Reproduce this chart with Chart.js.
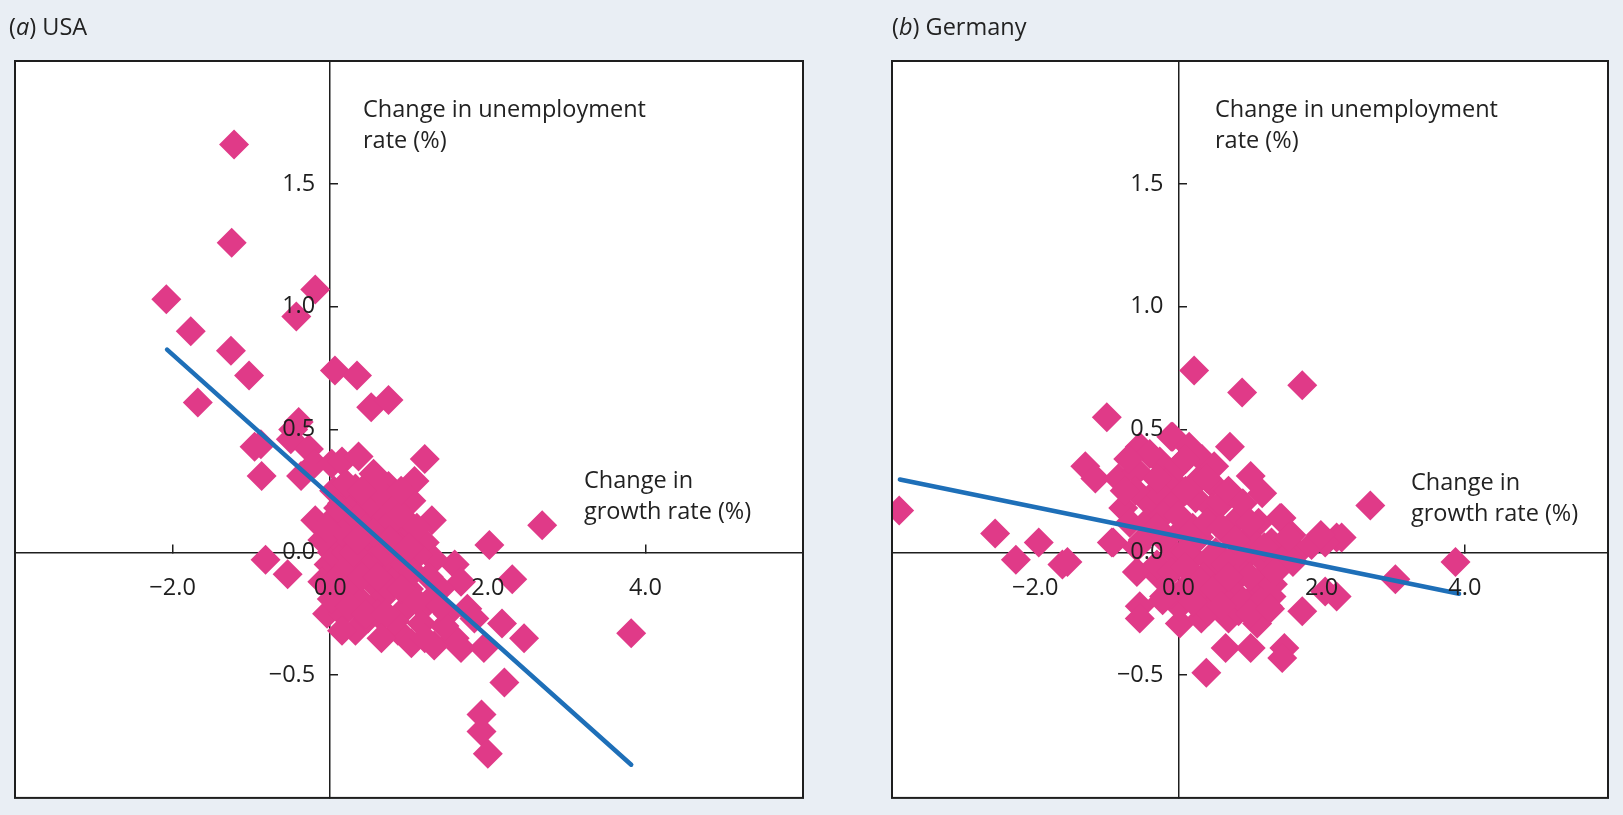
<!DOCTYPE html>
<html>
<head>
<meta charset="utf-8">
<script src="https://cdn.jsdelivr.net/npm/chart.js@4.4.1/dist/chart.umd.min.js"></script>
<style>
  html, body { margin: 0; padding: 0; background: #e9eef4; width: 1623px; height: 815px; overflow: hidden; }
  canvas { position: absolute; top: 0; }
  #cUSA { left: 0; width: 850px; height: 815px; }
  #cGER { left: 850px; width: 773px; height: 815px; }
  .t { position: absolute; font-family: "Open Sans", Lato, sans-serif; font-size: 23.5px; line-height: 31px; color: #222; white-space: nowrap; }
</style>
</head>
<body>
<canvas id="cUSA" width="850" height="815"></canvas>
<canvas id="cGER" width="773" height="815"></canvas>

<div class="t" style="left:9px; top:11px;">(<i>a</i>) USA</div>
<div class="t" style="left:892px; top:11px;">(<i>b</i>) Germany</div>

<div class="t" style="left:363px; top:93px;">Change in unemployment<br>rate (%)</div>
<div class="t" style="left:584px; top:464px;">Change in<br>growth rate (%)</div>
<div class="t" style="left:1215px; top:93px;">Change in unemployment<br>rate (%)</div>
<div class="t" style="left:1411px; top:466px;">Change in<br>growth rate (%)</div>

<script>
// ---------- DATA ----------
const xTickValues = [-2, 0, 2, 4];
const xTickLabels = ['\u22122.0', '0.0', '2.0', '4.0'];
const yTickValues = [-0.5, 0, 0.5, 1.0, 1.5];
const yTickLabels = ['\u22120.5', '0.0', '0.5', '1.0', '1.5'];

// (a) USA: change in growth rate (x) vs change in unemployment rate (y)
const usaGrowth = [
  -1.22, -1.25, -0.19, -2.08, -0.43, -1.77, -1.26, -1.03, 0.06, 0.34, -1.68, 0.52, 0.74,
  -0.47, -0.40, -0.50, -0.96, -0.88, -0.87, -0.27, -0.37, -0.20, 0.02, 0.15, 0.36, 1.20,
  0.32, 0.25, 0.53, 0.74, 0.65, 1.07, 1.03, 0.82, -0.19, 0.02, 0.19, 0.40, 1.29, 0.82,
  2.69, 2.02, -0.82, -0.54, 2.31, 2.18, 2.46, 3.82, 2.21, 1.92, 1.92, 2.00,
  -0.04, 0.16, 0.32, 0.48, 0.02, -0.02, 0.02, 0.86, 1.03, 1.32, 1.58, 1.66, 1.95,
  1.58, 1.66, 1.74, 1.83, 1.49, 1.20, 1.32, 1.11, 0.90, 0.74, 0.53, 0.32, 0.65, 0.95, 1.16, 0.82,
  0.10, 0.20, 0.30, 0.45, 0.60, 0.55, 0.10, 0.20, 0.40, 0.50, 0.70, 0.85, 0.95, 1.00,
  0.60, 0.45, 0.30, 0.15, 0.05, 0.90, 0.70, 1.10, 1.40, 1.25, 0.35, 0.15, 0.75, 1.05,
  0.55, 0.45, -0.10, -0.10, 0.25, 0.60, 0.88, 1.45, 0.60, 0.90,
  0.05, 0.25, 0.40, 0.60, 0.45, 0.70, 0.90, 1.10, 1.25, 1.40, 0.30, 0.55, 0.75, 1.00,
  0.20, 0.40, 0.10, 0.35, 0.65, 1.20, -0.05, 0.15
];
const usaUnemp = [
  1.66, 1.26, 1.07, 1.03, 0.96, 0.90, 0.82, 0.72, 0.74, 0.72, 0.61, 0.59, 0.62,
  0.50, 0.53, 0.46, 0.43, 0.44, 0.31, 0.42, 0.31, 0.36, 0.36, 0.37, 0.39, 0.38,
  0.26, 0.20, 0.23, 0.27, 0.24, 0.29, 0.21, 0.18, 0.13, 0.13, 0.12, 0.13, 0.13, 0.11,
  0.11, 0.03, -0.03, -0.09, -0.11, -0.29, -0.35, -0.33, -0.53, -0.66, -0.73, -0.82,
  -0.25, -0.25, -0.32, -0.27, -0.19, -0.05, 0.00, -0.32, -0.37, -0.38, -0.35, -0.39, -0.39,
  -0.05, -0.12, -0.23, -0.27, -0.25, 0.04, -0.03, -0.01, 0.05, -0.05, -0.12, -0.08, -0.19, -0.23, -0.29, -0.28,
  0.05, 0.00, 0.05, 0.02, 0.05, -0.03, -0.10, -0.15, -0.20, -0.08, 0.00, -0.10, -0.05, -0.15,
  0.15, 0.18, 0.15, 0.20, 0.25, 0.15, 0.10, 0.10, -0.15, -0.20, -0.02, 0.08, -0.15, -0.08,
  0.32, 0.10, 0.05, -0.12, -0.22, -0.25, 0.02, -0.30, 0.30, 0.25,
  -0.12, -0.05, -0.10, -0.10, -0.25, -0.25, -0.15, -0.20, -0.10, -0.22, 0.00, 0.08, 0.05, 0.02,
  0.28, 0.25, 0.18, 0.05, -0.35, -0.35, 0.10, -0.32
];
const usaFitX = [-2.07, 3.82];
const usaFitY = [0.825, -0.865];

// (b) Germany
const gerGrowth = [
  -3.90, -2.56, -1.95, -2.27, -1.62, -1.00, 0.22, 0.89, 1.73, 0.72, -0.10, -0.54, -1.30, -1.16,
  -0.93, -0.58, -0.54, -0.54, 2.68, 3.87, 3.03, 2.21, 2.05, 2.21, 1.73, 0.39, 0.66, 1.01, 1.48, 1.45,
  0.02, 0.32, 0.70, 1.10, 1.01, 1.17, 1.42, 2.28, 2.05,
  -0.08, 0.15, -0.84, -0.58, -0.26, 0.33, 0.47, -0.12, -0.40, -0.77, -0.08, 0.24, 0.47, -0.68, -0.45,
  -0.22, 0.84, 1.12, 1.44, -0.91, -0.58, -1.55, 0.05, 0.29, 0.71, 0.98, 1.30, 1.58, 1.67, 1.86,
  -0.03, 0.20, 0.52, 0.94, 1.22, 1.49,
  -0.26, 0.15, -0.20, 0.29, 0.56, 0.77, 1.05, 1.25, 1.11, 1.32, 0.84, 0.42, 0.01, 0.49, 1.25, 1.60,
  0.00, 0.10, 0.30, 0.60, 0.20, 0.40, 0.70, -0.30, -0.20, 0.10, 0.35, 0.65, 0.90, 0.00, -0.40, -0.70,
  0.50, 0.85, 1.00, 0.60,
  -0.30, -0.10, 0.10, 0.30, 0.50, 0.70, 0.90, 1.15, 1.35, -0.10, 0.20, 0.60, 1.00, 1.30, -0.22, 1.28,
  -0.60, -0.30, 0.10, 0.40, 0.60, 0.90, 1.20, -0.50, -0.30, 0.80, 1.00, -0.75, 1.99, 1.54
];
const gerUnemp = [
  0.17, 0.076, 0.04, -0.03, -0.05, 0.55, 0.74, 0.65, 0.68, 0.43, 0.47, 0.43, 0.35, 0.30,
  0.04, -0.08, -0.22, -0.27, 0.19, -0.04, -0.11, 0.06, -0.16, -0.18, -0.24, -0.49, -0.39, -0.39, -0.39, -0.43,
  -0.29, -0.27, -0.27, -0.29, 0.31, 0.24, 0.14, 0.06, 0.04,
  0.47, 0.43, 0.30, 0.33, 0.37, 0.38, 0.28, 0.30, 0.20, 0.18, 0.20, 0.22, 0.18, 0.12, 0.12,
  0.15, 0.14, 0.12, 0.14, 0.04, 0.02, -0.04, 0.09, 0.06, 0.07, 0.06, 0.04, 0.07, 0.00, 0.03,
  -0.01, -0.02, 0.00, -0.02, -0.04, -0.02,
  -0.10, -0.13, -0.18, -0.20, -0.09, -0.16, -0.18, -0.22, -0.12, -0.13, -0.24, -0.24, -0.22, -0.05, -0.05, -0.04,
  0.35, 0.25, 0.30, 0.20, 0.10, 0.12, 0.25, 0.25, 0.05, 0.00, -0.10, -0.05, -0.08, 0.15, 0.40, 0.38,
  0.35, 0.00, -0.10, -0.18,
  -0.05, -0.08, -0.06, -0.12, -0.15, -0.10, -0.20, -0.20, -0.08, -0.17, -0.20, -0.22, -0.25, -0.18, -0.195, -0.23,
  0.25, 0.30, 0.38, 0.30, 0.10, 0.20, 0.02, 0.05, 0.10, 0.05, 0.12, 0.25, 0.07, 0.06
];
const gerFitX = [-3.89, 3.92];
const gerFitY = [0.296, -0.169];

// ---------- STYLE ----------
const PINK = '#e03a88';
const BLUE = '#1e6fb8';
const INK = '#1e1e1e';
const FONT = { family: '"Open Sans", Lato, sans-serif', size: 23.5 };

const pts = (xs, ys) => xs.map((x, i) => ({ x, y: ys[i] }));

const boxPlugin = {
  id: 'box',
  beforeDraw(chart) {
    const { ctx, chartArea: a } = chart;
    ctx.save();
    ctx.fillStyle = '#ffffff';
    ctx.fillRect(a.left, a.top, a.right - a.left, a.bottom - a.top);
    ctx.restore();
  },
  afterDraw(chart) {
    const { ctx, chartArea: a } = chart;
    ctx.save();
    ctx.strokeStyle = INK;
    ctx.lineWidth = 2;
    ctx.strokeRect(a.left, a.top, a.right - a.left, a.bottom - a.top);
    ctx.restore();
  }
};

function setTicks(values) {
  return (scale) => { scale.ticks = values.map(v => ({ value: v })); };
}
function labelFor(values, labels) {
  return (v) => { const i = values.indexOf(v); return i >= 0 ? labels[i] : ''; };
}

function makeScales(labelOffsetX) {
  return {
    x: {
      type: 'linear', min: -4, max: 6,
      position: { y: 0 },
      afterBuildTicks: setTicks(xTickValues),
      afterFit: (s) => { s.height = 0; },
      grid: { drawOnChartArea: false, drawTicks: true, tickLength: -9, color: INK, lineWidth: 1.5 },
      border: { display: true, color: INK, width: 1.5 },
      ticks: { display: false }
    },
    xl: {
      type: 'linear', min: -4, max: 6, axis: 'x',
      position: { y: 0 },
      afterBuildTicks: setTicks(xTickValues),
      afterFit: (s) => { s.height = 0; },
      grid: { display: false },
      border: { display: false },
      ticks: { display: true, z: 1, padding: 14, color: INK, font: FONT, maxRotation: 0, autoSkip: false,
               callback: labelFor(xTickValues, xTickLabels) }
    },
    y: {
      type: 'linear', min: -1, max: 2,
      position: { x: 0 },
      afterBuildTicks: setTicks(yTickValues),
      afterFit: (s) => { s.width = 0; },
      grid: { drawOnChartArea: false, drawTicks: true, tickLength: -9, color: INK, lineWidth: 1.5 },
      border: { display: true, color: INK, width: 1.5 },
      ticks: { display: false }
    },
    yl: {
      type: 'linear', min: -1, max: 2, axis: 'y',
      position: { x: labelOffsetX },
      afterBuildTicks: setTicks(yTickValues),
      afterFit: (s) => { s.width = 0; },
      grid: { display: false },
      border: { display: false },
      ticks: { display: true, z: 1, color: INK, font: FONT, autoSkip: false,
               callback: labelFor(yTickValues, yTickLabels) }
    }
  };
}

function makeChart(id, growth, unemp, fitX, fitY, padding, labelOffsetX) {
  return new Chart(document.getElementById(id), {
    type: 'scatter',
    data: {
      datasets: [
        {
          type: 'line', label: 'fit', order: 0,
          data: pts(fitX, fitY),
          borderColor: BLUE, borderWidth: 4.5, borderCapStyle: 'round',
          pointRadius: 0, showLine: true, fill: false, tension: 0
        },
        {
          label: 'obs', order: 1,
          data: pts(growth, unemp),
          pointStyle: 'rectRot', pointRadius: 15,
          backgroundColor: PINK, borderWidth: 0
        }
      ]
    },
    options: {
      responsive: false,
      animation: false,
      events: [],
      layout: { padding },
      plugins: { legend: { display: false }, title: { display: false }, tooltip: { enabled: false } },
      scales: makeScales(labelOffsetX)
    },
    plugins: [boxPlugin]
  });
}

makeChart('cUSA', usaGrowth, usaUnemp, usaFitX, usaFitY,
  { left: 9, right: 47, top: 61, bottom: 5 }, -0.19);
makeChart('cGER', gerGrowth, gerUnemp, gerFitX, gerFitY,
  { left: 42, right: 9, top: 61, bottom: 5 }, -0.21);
</script>
</body>
</html>
